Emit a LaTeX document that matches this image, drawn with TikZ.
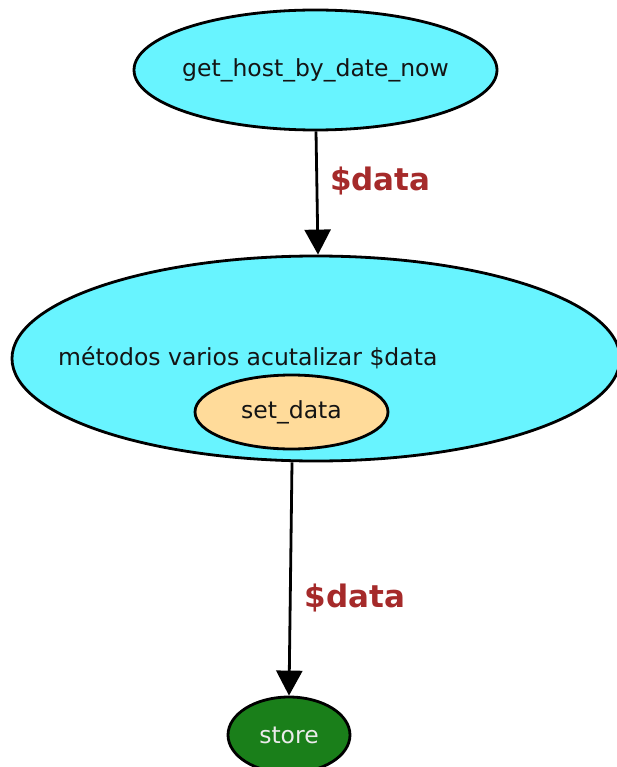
\documentclass[tikz,border=0pt]{standalone}
\usepackage{fontspec}
\setmainfont{DejaVu Sans}
\usetikzlibrary{arrows.meta,shapes.geometric}
\definecolor{nodecyan}{HTML}{68F4FF}
\definecolor{nodetan}{HTML}{FFDB9A}
\definecolor{storegreen}{HTML}{1A7F1A}
\definecolor{labelbrown}{HTML}{A52A2A}
\definecolor{inktext}{HTML}{141414}
\tikzset{
  blob/.style={ellipse, draw=black, line width=2.8pt, inner sep=0pt},
  blobtext/.style={font=\fontsize{23.5}{26}\selectfont, text=inktext, inner sep=0pt},
  flow/.style={draw=black, line width=2.8pt,
    -{Triangle[length=25pt,width=26pt]}},
  flowlabel/.style={font=\fontsize{31}{34}\bfseries\selectfont,
    text=labelbrown, anchor=west, inner sep=0pt}
}
\begin{document}
\begin{tikzpicture}[x=1pt,y=-1pt]
\useasboundingbox (0,0) rectangle (617,767);

% source method
\node[blob, fill=nodecyan, minimum width=363pt, minimum height=120pt]
  (src) at (315.5,70) {};
\node[blobtext] (srctxt) at (src.center) {get\_host\_by\_date\_now};

% container of the update methods
\node[blob, fill=nodecyan, minimum width=608pt, minimum height=205pt]
  (upd) at (316,358.5) {};
\node[blobtext, anchor=west] (updtxt) at (58,358) {métodos varios acutalizar \$data};
\node[blob, fill=nodetan, minimum width=193pt, minimum height=74pt]
  (setd) at (291.5,412) {};
\node[blobtext] (setdtxt) at (setd.center) {set\_data};

% sink
\node[blob, fill=storegreen, minimum width=122pt, minimum height=76pt]
  (store) at (289,735) {};
\node[blobtext, text=white!92!black] (storetxt) at (store.center) {store};

% connectors
\draw[flow] ([xshift=0.5pt]src.south) -- ([xshift=2pt]upd.north)
  node[pos=0.4, flowlabel, xshift=12pt] (lab1) {\$data};
\draw[flow] ([xshift=-24pt]upd.south) -- (store.north)
  node[pos=0.58, flowlabel, xshift=13pt] (lab2) {\$data};
\end{tikzpicture}
\end{document}
